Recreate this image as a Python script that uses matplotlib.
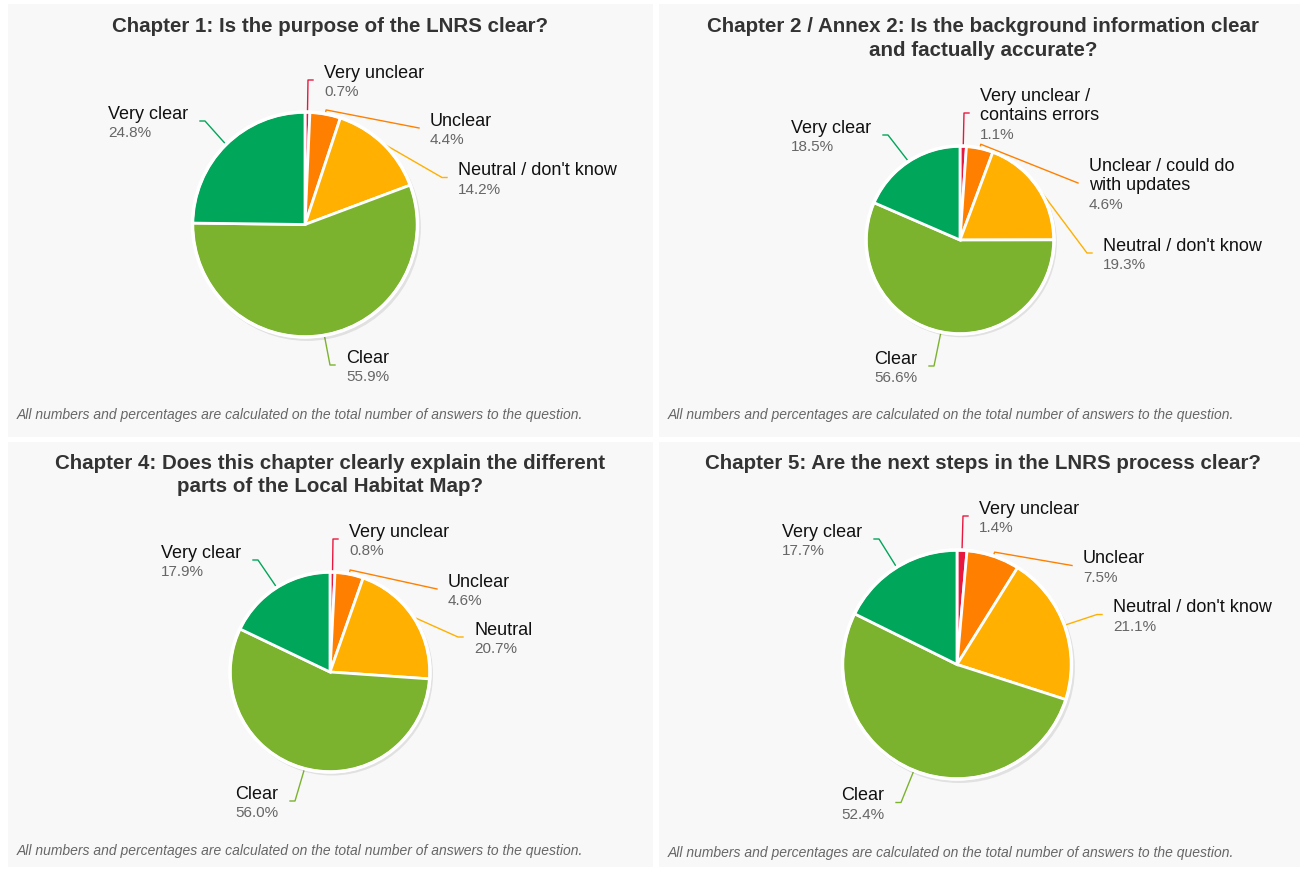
import matplotlib.pyplot as plt
from matplotlib.patches import Rectangle, Circle
import numpy as np

plt.rcParams['font.family'] = ['Liberation Sans', 'DejaVu Sans']

W, H = 1305, 870

# ---- data ----
titles = [
    "Chapter 1: Is the purpose of the LNRS clear?",
    "Chapter 2 / Annex 2: Is the background information clear\nand factually accurate?",
    "Chapter 4: Does this chapter clearly explain the different\nparts of the Local Habitat Map?",
    "Chapter 5: Are the next steps in the LNRS process clear?",
]
labels_ch1 = ["Very unclear", "Unclear", "Neutral / don't know", "Clear", "Very clear"]
labels_ch2 = ["Very unclear /\ncontains errors", "Unclear / could do\nwith updates",
              "Neutral / don't know", "Clear", "Very clear"]
labels_ch4 = ["Very unclear", "Unclear", "Neutral", "Clear", "Very clear"]
labels_ch5 = ["Very unclear", "Unclear", "Neutral / don't know", "Clear", "Very clear"]
values_ch1 = [0.7, 4.4, 14.2, 55.9, 24.8]
values_ch2 = [1.1, 4.6, 19.3, 56.6, 18.5]
values_ch4 = [0.8, 4.6, 20.7, 56.0, 17.9]
values_ch5 = [1.4, 7.5, 21.1, 52.4, 17.7]
footnote = "All numbers and percentages are calculated on the total number of answers to the question."

colors = ['#e8173f', '#ff8000', '#ffb000', '#7cb32e', '#00a65a']

# ---- layout (pixels) ----
panels = [(8, 5, 653, 438), (659, 5, 1300, 438), (8, 443, 653, 868), (659, 443, 1300, 868)]
title_pos = [(330, 27), (983, 38.5), (330, 475), (983, 464)]
foot_y = [415, 415, 851, 853]
pies = [(305, 225.5, 112.5), (960, 241, 94), (330, 673, 100), (957, 665.5, 114.5)]
# connector end points (offsets from pie centre)
anchors = [
    [(8, -144.5), (114, -96.5), (142, -47), (30, 140.5), (-105, -103.5)],
    [(9, -127), (118, -57), (132, 13), (-31, 126), (-77, -105)],
    [(8, -133), (107, -83), (133, -35), (-40, 129), (-77, -112)],
    [(11, -148.5), (115, -99), (145, -50), (-61, 138), (-83, -125.5)],
]
# connector drawn as short radial stub then straight line (True) or with a horizontal crook (False)
stub = [False, True, False, False, False]

all_labels = [labels_ch1, labels_ch2, labels_ch4, labels_ch5]
all_values = [values_ch1, values_ch2, values_ch4, values_ch5]

fig = plt.figure(figsize=(W / 100, H / 100), dpi=100)
bg = fig.add_axes([0, 0, 1, 1])
bg.set_xlim(0, W)
bg.set_ylim(H, 0)
bg.axis('off')

renderer = fig.canvas.get_renderer()
name_fs, pct_fs, line_h = 13, 11, 19.5

for i in range(4):
    x0, y0, x1, y1 = panels[i]
    bg.add_patch(Rectangle((x0, y0), x1 - x0, y1 - y0, facecolor='#f8f8f8', edgecolor='none'))
    tx, ty = title_pos[i]
    bg.text(tx, ty, titles[i], ha='center', va='center', fontsize=14.8, fontweight='bold',
            color='#333333', linespacing=1.29)
    bg.text(x0 + 9, foot_y[i], footnote, ha='left', va='center', fontsize=10,
            style='italic', color='#666666')

    cx, cy, r = pies[i]
    m = 1.15
    pax = fig.add_axes([(cx - r * m) / W, 1 - (cy + r * m) / H, 2 * r * m / W, 2 * r * m / H])
    pax.add_patch(Circle((0.02, -0.025), 1.01, facecolor='#000000', alpha=0.09, edgecolor='none'))
    pax.pie(all_values[i], colors=colors, startangle=90, counterclock=False,
            wedgeprops=dict(edgecolor='white', linewidth=2))
    pax.add_patch(Circle((0, 0), 1.0, facecolor='none', edgecolor='white', linewidth=2.5))
    pax.set_xlim(-m, m)
    pax.set_ylim(-m, m)
    pax.set_aspect('equal')
    pax.axis('off')

    vals = np.array(all_values[i])
    cum = np.cumsum(vals) - vals / 2
    for j, (lab, v) in enumerate(zip(all_labels[i], vals)):
        th = np.deg2rad(360 * cum[j] / vals.sum())
        ex, ey = cx + r * np.sin(th), cy - r * np.cos(th)
        ax_, ay_ = cx + anchors[i][j][0], cy + anchors[i][j][1]
        right = ax_ > cx
        if stub[j]:
            sx, sy = cx + (r + 4) * np.sin(th), cy - (r + 4) * np.cos(th)
            bg.plot([ex, sx, ax_], [ey, sy, ay_], color=colors[j], lw=1)
        else:
            crook = ax_ - 5 if right else ax_ + 5
            bg.plot([ex, crook, ax_], [ey, ay_, ay_], color=colors[j], lw=1)

        lines = lab.split('\n')
        n = len(lines) + 1
        ys = [ay_ + (k - (n - 1) / 2) * line_h for k in range(n)]
        texts = []
        for k, ln in enumerate(lines):
            texts.append(bg.text(0, ys[k], ln, fontsize=name_fs, color='#111111',
                                 va='center_baseline'))
        texts.append(bg.text(0, ys[-1], f"{v:.1f}%", fontsize=pct_fs, color='#666666',
                             va='center_baseline'))
        if right:
            left = ax_ + 11
        else:
            wmax = max(t.get_window_extent(renderer).width for t in texts)
            left = ax_ - 12 - wmax
        for t in texts:
            t.set_x(left)
            t.set_ha('left')

fig.savefig('out.png', dpi=100, facecolor='white')
